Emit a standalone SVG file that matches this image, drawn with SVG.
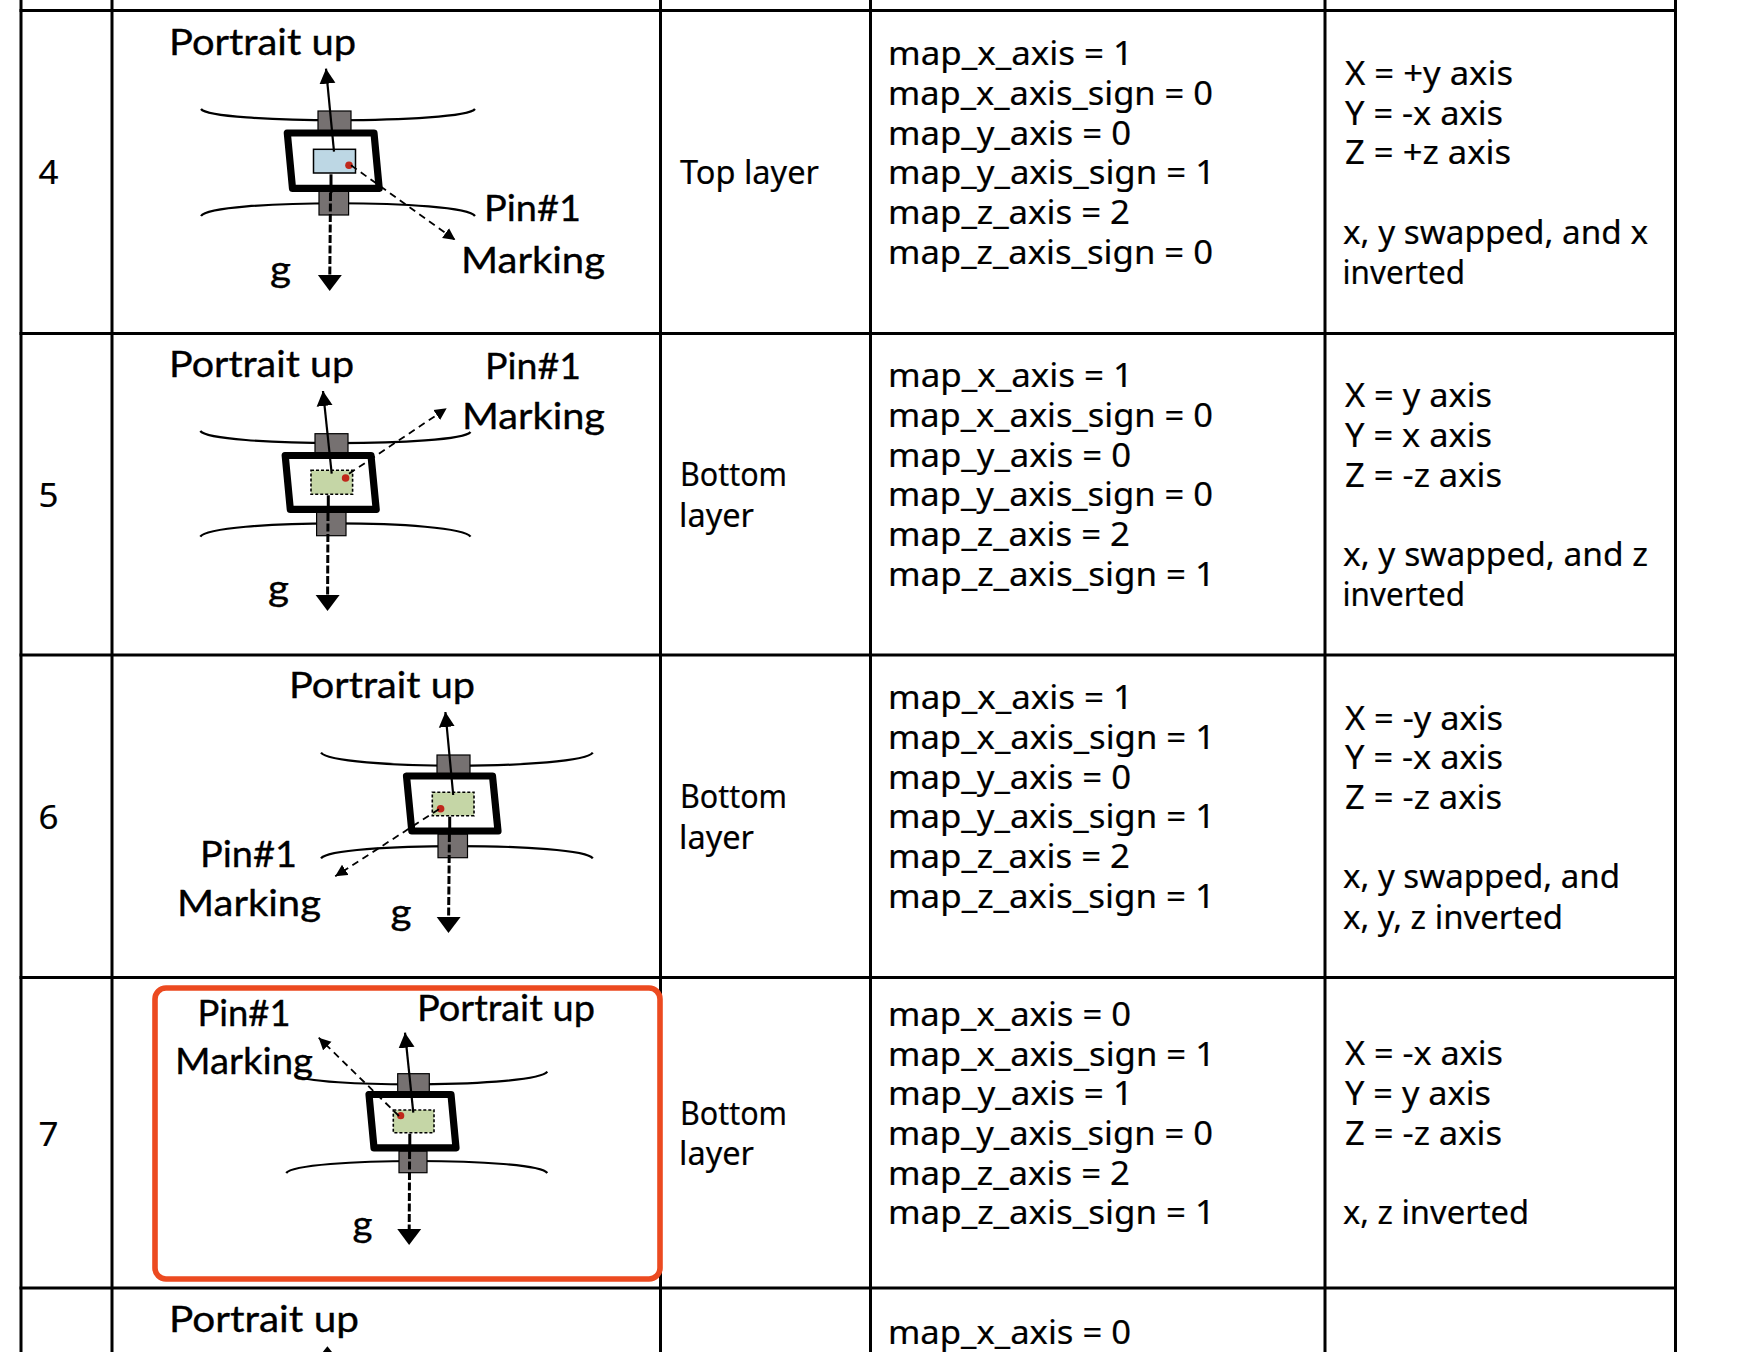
<svg xmlns="http://www.w3.org/2000/svg" width="1758" height="1352" viewBox="0 0 1758 1352">
<style>
text{fill:#000}
.t{font-family:"Noto Sans","Open Sans",sans-serif;font-size:32px;stroke:#000;stroke-width:.2}
.l{font-family:"Lato","Carlito","Noto Sans",sans-serif;font-size:37px;stroke:#000;stroke-width:.35}
.grid{stroke:#000;stroke-width:3;fill:none}
.curve{fill:none;stroke:#000;stroke-width:2.2}
.block{fill:#767171;stroke:#000;stroke-width:1.2}
.frame{fill:#fff;stroke:#000;stroke-width:7.2;stroke-linejoin:round}
.top{fill:#bdd7e4;stroke:#000;stroke-width:1.5}
.bot{fill:#c5d6a6;stroke:#000;stroke-width:1.6;stroke-dasharray:3 2}
.dot{fill:#c0281b}
.up{stroke:#000;stroke-width:2.2;fill:none;marker-end:url(#head)}
.solid{stroke:#000;stroke-width:3;fill:none}
.g{stroke:#000;stroke-width:3;stroke-dasharray:8 2.5;fill:none;marker-end:url(#ghead)}
.pin{stroke:#000;stroke-width:1.8;stroke-dasharray:7 5;fill:none;marker-end:url(#pinhead)}
</style>
<defs>
<marker id="head" markerUnits="userSpaceOnUse" markerWidth="16" markerHeight="18" refX="15" refY="9" orient="auto"><path d="M0 1L15 9L0 17Z" fill="#000"/></marker>
<marker id="ghead" markerUnits="userSpaceOnUse" markerWidth="17" markerHeight="26" refX="1" refY="13" orient="auto"><path d="M0 1L16 13L0 25Z" fill="#000"/></marker>
<marker id="pinhead" markerUnits="userSpaceOnUse" markerWidth="13" markerHeight="13" refX="12" refY="6.5" orient="auto"><path d="M0 0.5L12 6.5L0 12.5Z" fill="#000"/></marker>
</defs>
<rect width="1758" height="1352" fill="#fff"/>
<g id="table-grid" class="grid">
<path d="M21 0V1352M112 0V1352M660.5 0V1352M870.5 0V1352M1325 0V1352M1675.5 0V1352"/>
<path d="M19.5 10.5H1677M19.5 333.5H1677M19.5 655H1677M19.5 977.5H1677M19.5 1288H1677"/>
</g>
<g id="rows" transform="translate(0,1)">
<g id="row-4">
<text class="t" x="38.5" y="183" textLength="20" lengthAdjust="spacingAndGlyphs">4</text>
<g id="sensor-4">
<path class="curve" d="M201 108C212 123 463 123 475 108"/><path class="curve" d="M201 215C212 198 463 198 475 215"/>
<rect class="block" x="318" y="110" width="33" height="20"/><rect class="block" x="319" y="190" width="29.6" height="24"/>
<path class="frame" d="M287.3 132H374L379.2 187.4H292.5Z"/>
<rect class="top" x="313.5" y="148.3" width="42" height="23.7"/><circle class="dot" cx="349" cy="164.3" r="3.8"/>
</g>
<text class="l" x="169" y="53.5" textLength="187" lengthAdjust="spacingAndGlyphs">Portrait up</text>
<text class="l" x="484" y="219.5" textLength="97" lengthAdjust="spacingAndGlyphs">Pin#1</text>
<text class="l" x="461" y="271.7" textLength="144" lengthAdjust="spacingAndGlyphs">Marking</text>
<text class="l" x="270" y="280.5" textLength="21" lengthAdjust="spacingAndGlyphs">g</text>
<text class="t" x="680" y="183" textLength="139" lengthAdjust="spacingAndGlyphs">Top layer</text>
<g id="map-4">
<text class="t" x="888" y="64" textLength="245" lengthAdjust="spacingAndGlyphs">map_x_axis = 1</text>
<text class="t" x="888" y="104" textLength="325" lengthAdjust="spacingAndGlyphs">map_x_axis_sign = 0</text>
<text class="t" x="888" y="144" textLength="243" lengthAdjust="spacingAndGlyphs">map_y_axis = 0</text>
<text class="t" x="888" y="183" textLength="327" lengthAdjust="spacingAndGlyphs">map_y_axis_sign = 1</text>
<text class="t" x="888" y="223" textLength="242" lengthAdjust="spacingAndGlyphs">map_z_axis = 2</text>
<text class="t" x="888" y="263" textLength="325" lengthAdjust="spacingAndGlyphs">map_z_axis_sign = 0</text>
</g>
<g id="note-4">
<text class="t" x="1345" y="84" textLength="168" lengthAdjust="spacingAndGlyphs">X = +y axis</text>
<text class="t" x="1345" y="124" textLength="158" lengthAdjust="spacingAndGlyphs">Y = -x axis</text>
<text class="t" x="1345" y="163" textLength="166" lengthAdjust="spacingAndGlyphs">Z = +z axis</text>
<text class="t" x="1343" y="243" textLength="305" lengthAdjust="spacingAndGlyphs">x, y swapped, and x</text>
<text class="t" x="1342.5" y="283" textLength="122.5" lengthAdjust="spacingAndGlyphs">inverted</text>
</g>
</g>
<g id="row-5">
<text class="t" x="38.5" y="506" textLength="20" lengthAdjust="spacingAndGlyphs">5</text>
<g id="sensor-5">
<path class="curve" d="M200.3 430C212 446 459 446 470.5 431"/><path class="curve" d="M200.3 535.7C212 518 459 518 470.5 535.7"/>
<rect class="block" x="315" y="432.7" width="33" height="19"/><rect class="block" x="316.6" y="511" width="29.4" height="23.7"/>
<path class="frame" d="M285.2 454.5H371L376.2 508.4H290.3Z"/>
<rect class="bot" x="311" y="469.3" width="41.6" height="24"/><circle class="dot" cx="345.6" cy="477" r="3.8"/>
</g>
<text class="l" x="169" y="375.7" textLength="185" lengthAdjust="spacingAndGlyphs">Portrait up</text>
<text class="l" x="485" y="378" textLength="96" lengthAdjust="spacingAndGlyphs">Pin#1</text>
<text class="l" x="462" y="427.5" textLength="143" lengthAdjust="spacingAndGlyphs">Marking</text>
<text class="l" x="268" y="600.2" textLength="21" lengthAdjust="spacingAndGlyphs">g</text>
<text class="t" x="680" y="485" textLength="107" lengthAdjust="spacingAndGlyphs">Bottom</text>
<text class="t" x="679" y="525.5" textLength="75" lengthAdjust="spacingAndGlyphs">layer</text>
<g id="map-5">
<text class="t" x="888" y="386" textLength="245" lengthAdjust="spacingAndGlyphs">map_x_axis = 1</text>
<text class="t" x="888" y="426" textLength="325" lengthAdjust="spacingAndGlyphs">map_x_axis_sign = 0</text>
<text class="t" x="888" y="465.5" textLength="243" lengthAdjust="spacingAndGlyphs">map_y_axis = 0</text>
<text class="t" x="888" y="505" textLength="325" lengthAdjust="spacingAndGlyphs">map_y_axis_sign = 0</text>
<text class="t" x="888" y="545" textLength="242" lengthAdjust="spacingAndGlyphs">map_z_axis = 2</text>
<text class="t" x="888" y="585" textLength="327" lengthAdjust="spacingAndGlyphs">map_z_axis_sign = 1</text>
</g>
<g id="note-5">
<text class="t" x="1345" y="406" textLength="147" lengthAdjust="spacingAndGlyphs">X = y axis</text>
<text class="t" x="1345" y="445.5" textLength="147" lengthAdjust="spacingAndGlyphs">Y = x axis</text>
<text class="t" x="1345" y="485.5" textLength="157" lengthAdjust="spacingAndGlyphs">Z = -z axis</text>
<text class="t" x="1343" y="565" textLength="305" lengthAdjust="spacingAndGlyphs">x, y swapped, and z</text>
<text class="t" x="1342.5" y="605" textLength="122.5" lengthAdjust="spacingAndGlyphs">inverted</text>
</g>
</g>
<g id="row-6">
<text class="t" x="38.5" y="828" textLength="20" lengthAdjust="spacingAndGlyphs">6</text>
<g id="sensor-6">
<path class="curve" d="M321 751.7C333 769 581 769 592.8 751.7"/><path class="curve" d="M321 857.3C333 841 581 841 592.8 857.3"/>
<rect class="block" x="437" y="754" width="33" height="19"/><rect class="block" x="438" y="833" width="29.5" height="23.7"/>
<path class="frame" d="M406.5 775H492.5L498 830H411.8Z"/>
<rect class="bot" x="432.3" y="791.3" width="41.7" height="23.4"/><circle class="dot" cx="440.6" cy="807.7" r="3.8"/>
</g>
<text class="l" x="289" y="697" textLength="186" lengthAdjust="spacingAndGlyphs">Portrait up</text>
<text class="l" x="200" y="865.7" textLength="97" lengthAdjust="spacingAndGlyphs">Pin#1</text>
<text class="l" x="177" y="915" textLength="144" lengthAdjust="spacingAndGlyphs">Marking</text>
<text class="l" x="390.5" y="923.5" textLength="21" lengthAdjust="spacingAndGlyphs">g</text>
<text class="t" x="680" y="807" textLength="107" lengthAdjust="spacingAndGlyphs">Bottom</text>
<text class="t" x="679" y="847.5" textLength="75" lengthAdjust="spacingAndGlyphs">layer</text>
<g id="map-6">
<text class="t" x="888" y="708" textLength="245" lengthAdjust="spacingAndGlyphs">map_x_axis = 1</text>
<text class="t" x="888" y="747.5" textLength="327" lengthAdjust="spacingAndGlyphs">map_x_axis_sign = 1</text>
<text class="t" x="888" y="787.5" textLength="243" lengthAdjust="spacingAndGlyphs">map_y_axis = 0</text>
<text class="t" x="888" y="826.5" textLength="327" lengthAdjust="spacingAndGlyphs">map_y_axis_sign = 1</text>
<text class="t" x="888" y="867" textLength="242" lengthAdjust="spacingAndGlyphs">map_z_axis = 2</text>
<text class="t" x="888" y="906.5" textLength="327" lengthAdjust="spacingAndGlyphs">map_z_axis_sign = 1</text>
</g>
<g id="note-6">
<text class="t" x="1345" y="728.5" textLength="158" lengthAdjust="spacingAndGlyphs">X = -y axis</text>
<text class="t" x="1345" y="767.5" textLength="158" lengthAdjust="spacingAndGlyphs">Y = -x axis</text>
<text class="t" x="1345" y="807.5" textLength="157" lengthAdjust="spacingAndGlyphs">Z = -z axis</text>
<text class="t" x="1343" y="887" textLength="277" lengthAdjust="spacingAndGlyphs">x, y swapped, and</text>
<text class="t" x="1343" y="927.5" textLength="220" lengthAdjust="spacingAndGlyphs">x, y, z inverted</text>
</g>
</g>
<g id="row-7">
<text class="t" x="38.5" y="1145" textLength="20" lengthAdjust="spacingAndGlyphs">7</text>
<g id="sensor-7">
<path class="curve" d="M295 1074C308 1087 536 1087 547.3 1070.7"/><path class="curve" d="M286.2 1172C298 1156 536 1156 547.3 1172"/>
<rect class="block" x="397.7" y="1072.7" width="31.6" height="18"/><rect class="block" x="399" y="1150" width="28" height="21.7"/>
<path class="frame" d="M369 1093.5H451L456 1146.8H374Z"/>
<rect class="bot" x="393.3" y="1109" width="40.7" height="22.7"/><circle class="dot" cx="400.7" cy="1114.7" r="3.6"/>
</g>
<text class="l" x="417" y="1020" textLength="178" lengthAdjust="spacingAndGlyphs">Portrait up</text>
<text class="l" x="197.5" y="1025" textLength="93" lengthAdjust="spacingAndGlyphs">Pin#1</text>
<text class="l" x="175" y="1073" textLength="138" lengthAdjust="spacingAndGlyphs">Marking</text>
<text class="l" x="352.5" y="1235.5" textLength="20" lengthAdjust="spacingAndGlyphs">g</text>
<text class="t" x="680" y="1124" textLength="107" lengthAdjust="spacingAndGlyphs">Bottom</text>
<text class="t" x="679" y="1164" textLength="75" lengthAdjust="spacingAndGlyphs">layer</text>
<g id="map-7">
<text class="t" x="888" y="1025" textLength="243" lengthAdjust="spacingAndGlyphs">map_x_axis = 0</text>
<text class="t" x="888" y="1064.5" textLength="327" lengthAdjust="spacingAndGlyphs">map_x_axis_sign = 1</text>
<text class="t" x="888" y="1104" textLength="245" lengthAdjust="spacingAndGlyphs">map_y_axis = 1</text>
<text class="t" x="888" y="1144" textLength="325" lengthAdjust="spacingAndGlyphs">map_y_axis_sign = 0</text>
<text class="t" x="888" y="1184" textLength="242" lengthAdjust="spacingAndGlyphs">map_z_axis = 2</text>
<text class="t" x="888" y="1223" textLength="327" lengthAdjust="spacingAndGlyphs">map_z_axis_sign = 1</text>
</g>
<g id="note-7">
<text class="t" x="1345" y="1063.5" textLength="158" lengthAdjust="spacingAndGlyphs">X = -x axis</text>
<text class="t" x="1345" y="1103.5" textLength="146" lengthAdjust="spacingAndGlyphs">Y = y axis</text>
<text class="t" x="1345" y="1143.5" textLength="157" lengthAdjust="spacingAndGlyphs">Z = -z axis</text>
<text class="t" x="1343" y="1223" textLength="186" lengthAdjust="spacingAndGlyphs">x, z inverted</text>
</g>
<rect id="highlight-7" x="155" y="987" width="505" height="291" rx="11" fill="none" stroke="#ec4a20" stroke-width="5.6"/>
</g>
<g id="row-8">
<text class="l" x="169" y="1331" textLength="190" lengthAdjust="spacingAndGlyphs">Portrait up</text>
<text class="t" x="888" y="1343" textLength="243" lengthAdjust="spacingAndGlyphs">map_x_axis = 0</text>
</g>
<g id="connectors">
<path class="up" d="M334 150.7L326 67.7"/><path class="solid" d="M331 173.3V192"/><path class="g" d="M330.5 192L329.8 275"/><path class="pin" d="M351 164.3L455.3 239"/>
<path class="up" d="M331.7 472.7L323 390"/><path class="solid" d="M328.3 494.3V512"/><path class="g" d="M328 512L327.6 595"/><path class="pin" d="M349 472.7L446.7 407.3"/>
<path class="up" d="M453.2 794L445.4 711"/><path class="solid" d="M449.7 815.7V833"/><path class="g" d="M449.4 833L448.6 917"/><path class="pin" d="M438.9 808.3L335.2 875.3"/>
<path class="up" d="M413.3 1111.7L405 1031.7"/><path class="solid" d="M409.8 1132.7V1150"/><path class="g" d="M409.6 1150L409.2 1229"/><path class="pin" d="M399 1115L318.7 1036.7"/>
<path d="M327.4 1345.3L322 1352H332.8Z" fill="#000"/>
</g>
</g>
</svg>
